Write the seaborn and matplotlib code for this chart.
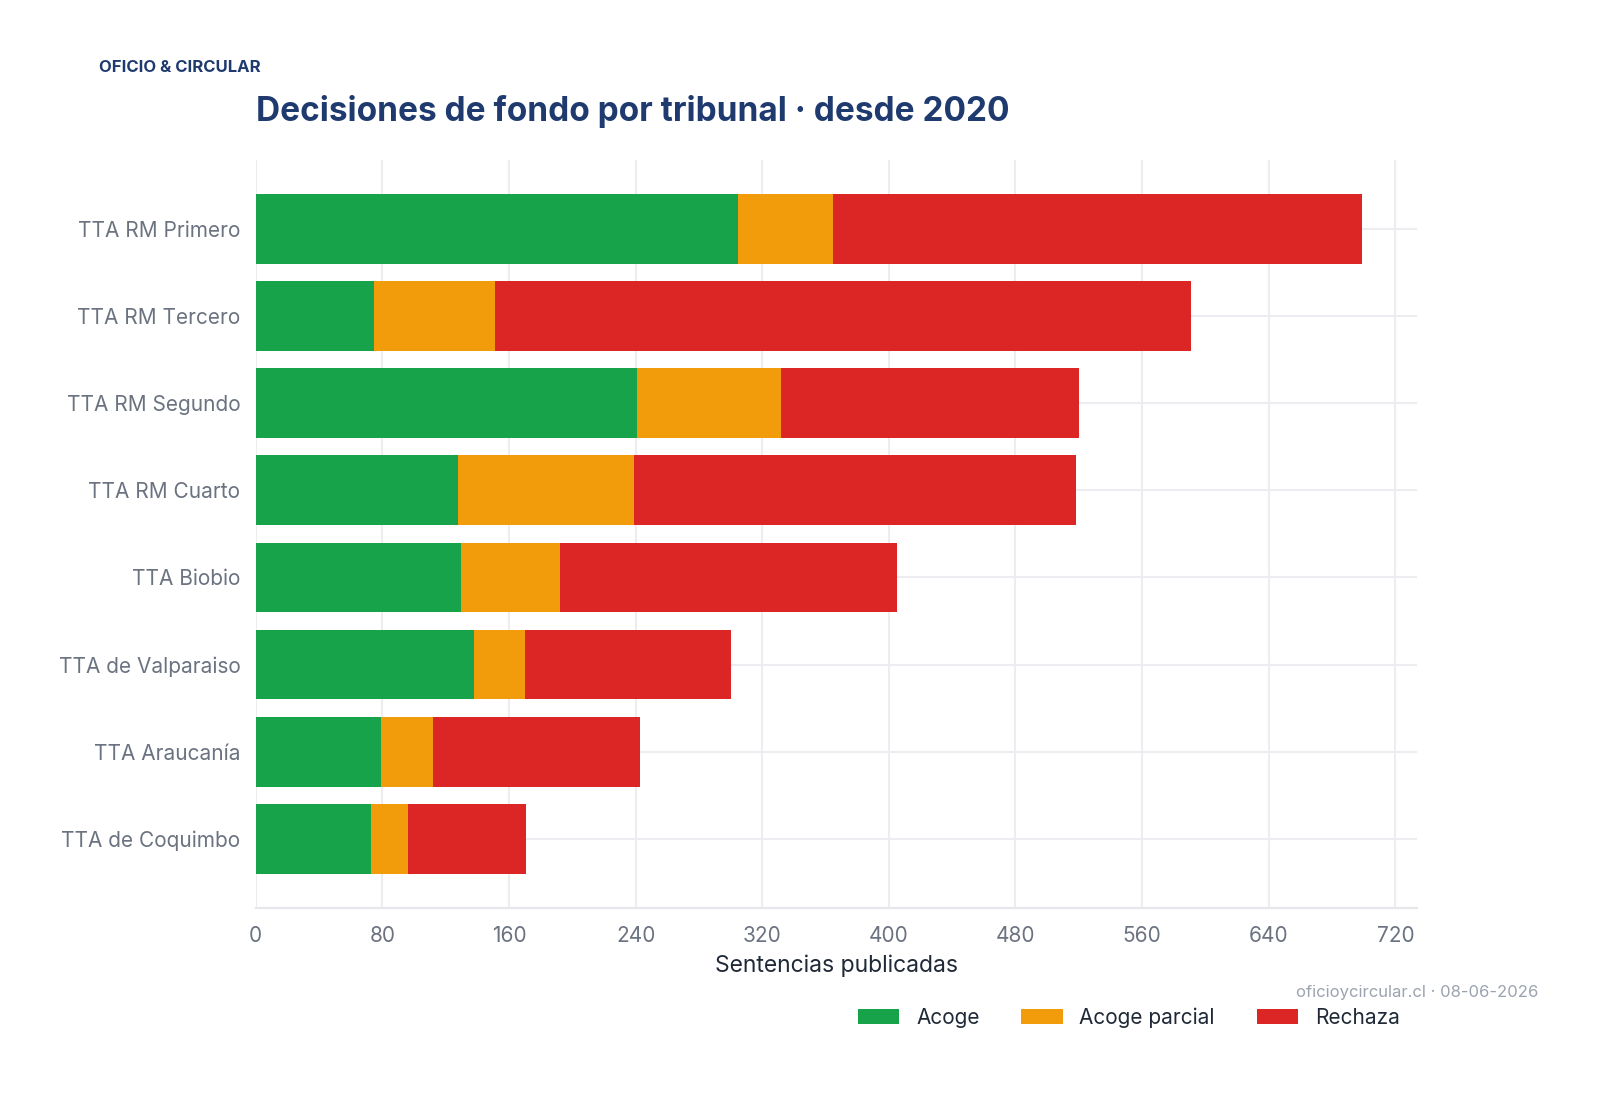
import matplotlib
matplotlib.use("Agg")
import matplotlib.pyplot as plt
from matplotlib.patches import Patch
import seaborn as sns
import pandas as pd

# Datos
tribunales = [
    "TTA RM Primero",
    "TTA RM Tercero",
    "TTA RM Segundo",
    "TTA RM Cuarto",
    "TTA Biobio",
    "TTA de Valparaiso",
    "TTA Araucanía",
    "TTA de Coquimbo",
]
acoge = [305, 75, 241, 128, 130, 138, 79, 73]
acoge_parcial = [60, 76, 91, 111, 62, 32, 33, 23]
rechaza = [334, 440, 188, 279, 213, 130, 131, 75]

series = ["Acoge", "Acoge parcial", "Rechaza"]
colores = ["#16a34a", "#f39c0b", "#dc2626"]
x_ticks = [0, 80, 160, 240, 320, 400, 480, 560, 640, 720]

NAVY = "#1e3a6e"
GRIS = "#6b7280"
OSCURO = "#1f2937"

sns.set_theme(style="white")
plt.rcParams["font.family"] = ["Inter", "DejaVu Sans"]

df = pd.DataFrame({
    "tribunal": tribunales,
    "Acoge": acoge,
    "Acoge parcial": acoge_parcial,
    "Rechaza": rechaza,
})
# acumulados para apilar
df["c1"] = df["Acoge"]
df["c2"] = df["c1"] + df["Acoge parcial"]
df["c3"] = df["c2"] + df["Rechaza"]

fig = plt.figure(figsize=(15.98, 10.95), dpi=100)
ax = fig.add_axes([0.160, 0.171, 0.727, 0.683])

# se dibuja del total hacia atrás para que queden apiladas
for col, color in zip(["c3", "c2", "c1"], colores[::-1]):
    sns.barplot(data=df, y="tribunal", x=col, color=color, orient="h",
                width=0.8, saturation=1, linewidth=0, ax=ax, order=tribunales)

ax.set_xlim(0, df["c3"].max() * 1.05)
ax.set_ylim(len(tribunales) - 1 + 0.79, -0.79)
ax.set_xticks(x_ticks)

ax.grid(True, axis="both", color="#ececf1", linewidth=1.5)
ax.set_axisbelow(True)
for s in ["top", "right", "left"]:
    ax.spines[s].set_visible(False)
ax.spines["bottom"].set_color("#e5e7eb")
ax.spines["bottom"].set_linewidth(1.6)

ax.tick_params(axis="both", colors=GRIS, labelsize=15, length=5, width=1,
               labelcolor=GRIS)
ax.tick_params(axis="y", pad=6)
ax.tick_params(axis="x", pad=8)
ax.set_ylabel("")
ax.set_xlabel("Sentencias publicadas", fontsize=16.5, color=OSCURO, labelpad=6)

fig.text(0.062, 0.938, "OFICIO & CIRCULAR", fontsize=12, fontweight="bold",
         color=NAVY, ha="left", va="center")
fig.text(0.160, 0.898, "Decisiones de fondo por tribunal · desde 2020",
         fontsize=24, fontweight="bold", color=NAVY, ha="left", va="center")
fig.text(0.9625, 0.094, "oficioycircular.cl · 08-06-2026", fontsize=12,
         color="#9ca3af", ha="right", va="center")

handles = [Patch(facecolor=c, edgecolor="none") for c in colores]
fig.legend(handles, series, loc="center right", bbox_to_anchor=(0.876, 0.071),
           ncol=3, frameon=False, fontsize=15, labelcolor=OSCURO,
           handlelength=2.0, handleheight=0.7, handletextpad=0.8,
           columnspacing=2.0, borderpad=0, borderaxespad=0)

fig.savefig("out.png", dpi=100)
